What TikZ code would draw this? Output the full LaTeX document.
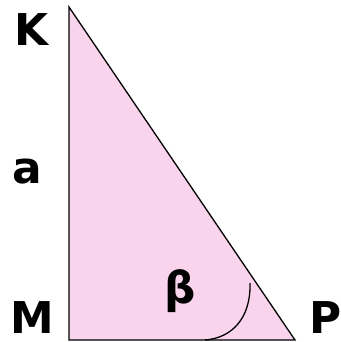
\documentclass[tikz,border=0pt]{standalone}
\usepackage{fontspec}
\setmainfont{DejaVu Sans}
\usepackage{tikz}
\usetikzlibrary{calc}

\definecolor{trifill}{RGB}{250,212,236}

\begin{document}
\begin{tikzpicture}[x=1bp,y=-1bp,
    lbl/.style={font=\fontsize{44}{44}\selectfont\bfseries, inner sep=0pt}]

% Frame
\useasboundingbox (0,0) rectangle (341,342);

% Vertices
\coordinate (K) at (69,7);
\coordinate (M) at (69,340);
\coordinate (P) at (295,340);

% Triangle
\draw[fill=trifill, line width=1.3bp] (K) -- (M) -- (P) -- cycle;

% Angle mark
\coordinate (arcA) at (205,340);
\coordinate (arcB) at (250,283);
\draw[line width=1.3bp] (arcA) .. controls (232,338) and (251,318) .. (arcB);

% Labels
\node[lbl] (lK) at (31,30) {K};
\node[lbl] (la) at (27,172) {a};
\node[lbl] (lM) at (32,318) {M};
\node[lbl] (lP) at (326,318) {P};
\node[lbl] (lb) at (180,291) {β};

\end{tikzpicture}
\end{document}
